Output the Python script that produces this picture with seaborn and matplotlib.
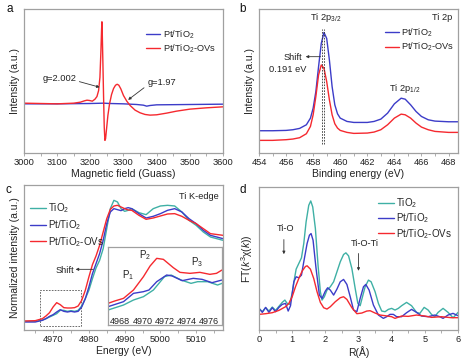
import matplotlib.pyplot as plt
import seaborn as sns
from matplotlib.ticker import MultipleLocator
from matplotlib.patches import Rectangle

sns.set_style("white")
plt.rcParams['font.family'] = ['Liberation Sans', 'DejaVu Sans']
plt.rcParams['mathtext.default'] = 'regular'
plt.rcParams['mathtext.fontset'] = 'custom'
plt.rcParams['mathtext.it'] = 'Liberation Sans:italic'
plt.rcParams['mathtext.rm'] = 'Liberation Sans'

BLUE = '#3c3cc8'
RED = '#f5292f'
TEAL = '#3fb0a5'
GREY = '#a0a0a0'
TXT = '#222222'

# ---- (a) EPR ----
epr_field_red = [3000, 3050, 3100, 3150, 3170, 3182, 3190, 3198, 3206, 3214, 3220, 3225, 3229,
                 3232, 3234, 3235, 3236, 3238, 3240, 3242, 3244, 3246, 3249, 3253, 3258, 3264,
                 3270, 3276, 3281, 3286, 3292, 3300, 3310, 3320, 3335, 3350, 3365, 3380, 3400,
                 3430, 3460, 3500, 3550, 3600]
epr_red = [2, 1, 0, 2, 5, 9, 11, 10, 8, 14, 22, 40, 80,
           160, 225, 247, 215, 120, 20, -70, -110, -105, -75, -35, 0, 28,
           46, 56, 59, 56, 45, 25, 8, -5, -19, -27, -32, -34, -33,
           -28, -22, -16, -12, -9]
epr_field_blue = [3000, 3100, 3200, 3240, 3260, 3300, 3340, 3360, 3370, 3380, 3400, 3500, 3600]
epr_blue = [0, 0, 1, 2, 1, 0, -2, -4, -7, -5, -3, -2, -1]

# ---- (b) XPS Ti 2p ----
xps_be = [454, 455, 456, 456.5, 457, 457.5, 457.8, 458.0, 458.2, 458.4, 458.6, 458.8, 459.0,
          459.2, 459.4, 459.6, 459.8, 460.0, 460.5, 461, 462, 462.5, 463, 463.5, 464, 464.5,
          464.8, 465.2, 465.6, 466, 466.5, 467, 468, 468.7]
xps_pt = [67, 67, 68, 70, 74, 85, 105, 135, 185, 260, 330, 363, 345,
          280, 200, 145, 118, 105, 95, 92, 92, 95, 102, 120, 148, 165,
          162, 145, 125, 110, 100, 96, 94, 94]
xps_ov = [38, 38, 40, 42, 46, 58, 80, 115, 170, 235, 265, 255, 215,
          160, 115, 88, 75, 68, 62, 59, 60, 63, 70, 85, 105, 117,
          115, 105, 90, 78, 70, 65, 62, 62]

# ---- (c) XANES Ti K-edge ----
xanes_e = [4962, 4965, 4967, 4968, 4969, 4970, 4971, 4972, 4973, 4974, 4975, 4976, 4977,
           4978, 4979, 4980, 4981, 4982, 4983, 4984, 4985, 4986, 4987, 4988, 4989, 4990,
           4991, 4992, 4994, 4996, 4998, 5000, 5002, 5004, 5006, 5008, 5010, 5012, 5014, 5017.5]
xanes_tio2 = [26, 26, 30, 34, 39, 44, 49, 59, 59, 56, 58, 56, 59,
              72, 94, 119, 154, 186, 209, 244, 304, 364, 389, 384, 364, 356,
              359, 364, 352, 346, 364, 372, 374, 372, 354, 329, 314, 294, 279, 269]
xanes_pt = [24, 24, 29, 34, 41, 46, 54, 61, 56, 54, 56, 54, 56,
            69, 94, 129, 169, 199, 229, 269, 319, 354, 364, 361, 358, 364,
            367, 364, 349, 336, 341, 349, 359, 364, 354, 334, 319, 299, 284, 274]
xanes_ov = [27, 28, 34, 42, 52, 69, 82, 76, 67, 66, 66, 67, 72,
            89, 119, 159, 196, 222, 254, 294, 334, 362, 372, 374, 369, 364,
            360, 359, 344, 332, 336, 342, 348, 349, 341, 329, 319, 304, 289, 284]

# inset pre-edge
pre_e_ov = [4966.9, 4967.5, 4968.3, 4969.2, 4970.1, 4970.7, 4971.3, 4971.9, 4972.8, 4973.4,
            4974.3, 4975.2, 4976.1, 4976.7, 4977.2]
pre_ov = [40, 47, 55, 80, 120, 152, 175, 172, 147, 133, 130, 133, 127, 130, 140]
pre_e_pt = [4966.9, 4968.3, 4969.2, 4970.1, 4970.6, 4971.3, 4972.2, 4972.7, 4973.6, 4974.6,
            4975.4, 4976.3, 4977.2]
pre_pt = [30, 45, 70, 75, 80, 105, 125, 122, 108, 115, 112, 102, 110]
pre_e_tio2 = [4966.9, 4968.3, 4969.2, 4970.1, 4971.0, 4972.0, 4972.6, 4973.5, 4974.4, 4975.0,
              4975.9, 4976.8, 4977.2]
pre_tio2 = [20, 35, 50, 60, 80, 120, 125, 110, 100, 105, 105, 95, 100]

# ---- (d) EXAFS FT ----
r_tio2 = [0.0, 0.1, 0.2, 0.3, 0.4, 0.5, 0.6, 0.7, 0.78, 0.85, 0.92, 1.0, 1.07, 1.12, 1.2, 1.28,
          1.35, 1.42, 1.5, 1.56, 1.62, 1.7, 1.78, 1.85, 1.9, 1.97, 2.05, 2.15, 2.25, 2.35, 2.45,
          2.55, 2.62, 2.7, 2.8, 2.9, 2.98, 3.05, 3.12, 3.2, 3.3, 3.38, 3.5, 3.6, 3.7, 3.8, 3.9,
          4.0, 4.1, 4.2, 4.3, 4.45, 4.6, 4.75, 4.85, 4.98, 5.1, 5.2, 5.3, 5.4, 5.55, 5.7, 5.85,
          5.95, 6.0]
ft_tio2 = [65, 55, 67, 57, 69, 59, 71, 83, 90, 80, 77, 110, 155, 183, 200, 217,
           260, 325, 375, 388, 370, 305, 195, 115, 90, 100, 120, 130, 145, 175, 205,
           227, 232, 223, 185, 125, 80, 73, 100, 130, 150, 145, 115, 80, 57, 55, 62,
           65, 60, 65, 73, 83, 73, 53, 50, 68, 60, 47, 40, 53, 65, 53, 37,
           47, 53]
r_pt = [0.0, 0.1, 0.2, 0.3, 0.4, 0.5, 0.6, 0.7, 0.8, 0.88, 0.95, 1.05, 1.12, 1.2, 1.28, 1.35,
        1.45, 1.52, 1.57, 1.63, 1.72, 1.82, 1.9, 2.0, 2.07, 2.15, 2.25, 2.35, 2.45, 2.55, 2.65,
        2.75, 2.85, 2.95, 3.05, 3.15, 3.22, 3.32, 3.45, 3.6, 3.75, 3.85, 3.95, 4.05, 4.15, 4.3,
        4.45, 4.6, 4.75, 4.9, 5.1, 5.3, 5.45, 5.55, 5.7, 5.85, 6.0]
ft_pt = [65, 53, 68, 53, 67, 55, 68, 77, 80, 57, 73, 145, 160, 157, 165, 205,
         260, 285, 290, 270, 185, 105, 95, 117, 127, 120, 105, 123, 145, 152, 137,
         100, 60, 55, 95, 130, 137, 120, 75, 45, 35, 40, 47, 47, 40, 40,
         52, 62, 53, 42, 40, 45, 40, 35, 45, 50, 43]
r_ov = [0.0, 0.2, 0.4, 0.6, 0.8, 0.9, 1.0, 1.1, 1.2, 1.3, 1.4, 1.45, 1.55, 1.65, 1.75, 1.85,
        1.95, 2.05, 2.15, 2.3, 2.45, 2.55, 2.65, 2.8, 2.95, 3.1, 3.25, 3.35, 3.5, 3.65, 3.8,
        4.0, 4.1, 4.3, 4.5, 4.75, 5.0, 5.2, 5.5, 5.8, 6.0]
ft_ov = [47, 49, 52, 59, 70, 80, 100, 130, 155, 177, 191, 193, 183, 155, 115, 83,
         67, 63, 70, 85, 97, 100, 92, 67, 49, 51, 57, 58, 51, 45, 43,
         40, 35, 42, 41, 45, 42, 38, 40, 37, 37]

fig = plt.figure(figsize=(4.63, 3.64), dpi=100)
ax_a = fig.add_axes([0.0518, 0.5797, 0.4298, 0.3969])
ax_b = fig.add_axes([0.5594, 0.5797, 0.4298, 0.3969])
ax_c = fig.add_axes([0.0529, 0.0934, 0.4287, 0.3984])
ax_d = fig.add_axes([0.5594, 0.0934, 0.4298, 0.3929])


def style(ax, major, minor):
    for s in ax.spines.values():
        s.set_color(GREY)
        s.set_linewidth(0.9)
    ax.xaxis.set_major_locator(MultipleLocator(major))
    ax.xaxis.set_minor_locator(MultipleLocator(minor))
    ax.tick_params(axis='x', which='both', direction='out', length=2, width=0.6,
                   color=GREY, labelsize=6.7, labelcolor=TXT, pad=1.5, bottom=True)
    ax.tick_params(axis='y', left=False, labelleft=False)
    ax.grid(False)


def lines(ax, x, y, color, label=None, lw=1.0):
    sns.lineplot(x=x, y=y, ax=ax, color=color, lw=lw, sort=False, label=label, legend=False)


def legend(ax, x, y, fs=6.7, hl=1.5, sp=0.2):
    ax.legend(loc='upper left', bbox_to_anchor=(x, y), frameon=False, fontsize=fs,
              handlelength=hl, handletextpad=0.25, borderpad=0, borderaxespad=0,
              labelspacing=sp)


arrow = dict(arrowstyle='-|>', lw=0.6, color='#333333', mutation_scale=4,
             shrinkA=0, shrinkB=0)

# (a)
lines(ax_a, epr_field_blue, epr_blue, BLUE, 'Pt/TiO$_2$')
lines(ax_a, epr_field_red, epr_red, RED, 'Pt/TiO$_2$-OVs')
ax_a.set_xlim(3000, 3600)
ax_a.set_ylim(-148, 287)
style(ax_a, 100, 50)
ax_a.set_xlabel('Magnetic field (Guass)', fontsize=7.5, color=TXT, labelpad=1.5)
ax_a.set_ylabel('Intensity (a.u.)', fontsize=7.5, color=TXT, labelpad=3)
legend(ax_a, 0.615, 0.865)
ax_a.annotate('g=2.002', xy=(3228, 50), xytext=(3106, 75), fontsize=6.7, color=TXT,
              ha='center', va='center', arrowprops=dict(arrow, relpos=(1, 0.3)))
ax_a.annotate('g=1.97', xy=(3314, 12), xytext=(3415, 64), fontsize=6.7, color=TXT,
              ha='center', va='center', arrowprops=dict(arrow, relpos=(0, 0.2)))

# (b)
lines(ax_b, xps_be, xps_pt, BLUE, 'Pt/TiO$_2$')
lines(ax_b, xps_be, xps_ov, RED, 'Pt/TiO$_2$-OVs')
for pos in [458.62, 458.81]:
    ax_b.plot([pos, pos], [28, 372], ls=(0, (2, 1.5)), lw=0.6, color='#333333')
ax_b.set_xlim(454, 468.7)
ax_b.set_ylim(0, 435)
style(ax_b, 2, 1)
ax_b.set_xlabel('Binding energy (eV)', fontsize=7.5, color=TXT, labelpad=1.5)
ax_b.set_ylabel('Intensity (a.u.)', fontsize=7.5, color=TXT, labelpad=3)
legend(ax_b, 0.632, 0.875)
ax_b.text(458.94, 408, 'Ti 2p$_{3/2}$', fontsize=6.7, color=TXT, ha='center', va='center')
ax_b.text(468.3, 408, 'Ti 2p', fontsize=6.7, color=TXT, ha='right', va='center')
ax_b.text(464.74, 195, 'Ti 2p$_{1/2}$', fontsize=6.7, color=TXT, ha='center', va='center')
ax_b.text(456.5, 288, 'Shift', fontsize=6.7, color=TXT, ha='center', va='center')
ax_b.text(456.1, 250, '0.191 eV', fontsize=6.7, color=TXT, ha='center', va='center')
ax_b.annotate('', xy=(457.45, 290), xytext=(458.55, 290), arrowprops=arrow)

# (c)
lines(ax_c, xanes_e, xanes_tio2, TEAL, 'TiO$_2$')
lines(ax_c, xanes_e, xanes_pt, BLUE, 'Pt/TiO$_2$')
lines(ax_c, xanes_e, xanes_ov, RED, 'Pt/TiO$_2$-OVs')
ax_c.set_xlim(4962, 5017.5)
ax_c.set_ylim(0, 435)
style(ax_c, 10, 5)
ax_c.set_xlabel('Energy (eV)', fontsize=7.5, color=TXT, labelpad=1.5)
ax_c.set_ylabel('Normalized intensity (a.u.)', fontsize=7.5, color=TXT, labelpad=3)
legend(ax_c, 0.03, 0.885, fs=7, hl=1.6, sp=0.28)
ax_c.text(5016.4, 399, 'Ti K-edge', fontsize=6.7, color=TXT, ha='right', va='center')
ax_c.text(4973.3, 179, 'Shift', fontsize=6.7, color=TXT, ha='center', va='center')
ax_c.annotate('', xy=(4976.3, 182), xytext=(4981.2, 182), arrowprops=arrow)
ax_c.add_patch(Rectangle((4966.4, 12), 11.5, 107, fill=False, ls=(0, (2, 1.5)),
                         lw=0.6, ec='#555555'))

ins = fig.add_axes([0.2333, 0.1071, 0.2462, 0.2143])
ins.set_facecolor('white')
lines(ins, pre_e_tio2, pre_tio2, TEAL)
lines(ins, pre_e_pt, pre_pt, BLUE)
lines(ins, pre_e_ov, pre_ov, RED)
ins.set_xlim(4966.9, 4977.2)
ins.set_ylim(-25, 209)
for s in ins.spines.values():
    s.set_color(GREY)
    s.set_linewidth(0.9)
ins.xaxis.set_major_locator(MultipleLocator(2))
ins.tick_params(axis='x', direction='in', length=0, labelsize=6.5, labelcolor=TXT, pad=-6)
ins.tick_params(axis='y', left=False, labelleft=False)
ins.set_xlabel('')
ins.set_ylabel('')
ins.text(4968.75, 125, 'P$_1$', fontsize=7, color=TXT, ha='center', va='center')
ins.text(4970.25, 185, 'P$_2$', fontsize=7, color=TXT, ha='center', va='center')
ins.text(4974.9, 165, 'P$_3$', fontsize=7, color=TXT, ha='center', va='center')

# (d)
lines(ax_d, r_tio2, ft_tio2, TEAL, 'TiO$_2$')
lines(ax_d, r_pt, ft_pt, BLUE, 'Pt/TiO$_2$')
lines(ax_d, r_ov, ft_ov, RED, 'Pt/TiO$_2$-OVs')
ax_d.set_xlim(0, 6)
ax_d.set_ylim(0, 430)
style(ax_d, 1, 0.5)
ax_d.set_xlabel('R(Å)', fontsize=7.5, color=TXT, labelpad=1.5)
ax_d.set_ylabel('FT($\\mathit{k}^3$χ($\\mathit{k}$))', fontsize=7.5, color=TXT, labelpad=3)
legend(ax_d, 0.6, 0.935, fs=7, hl=1.6, sp=0.15)
ax_d.text(0.8, 305, 'Ti-O', fontsize=6.7, color=TXT, ha='center', va='center')
ax_d.annotate('', xy=(0.75, 228), xytext=(0.75, 272), arrowprops=arrow)
ax_d.text(3.2, 260, 'Ti-O-Ti', fontsize=6.7, color=TXT, ha='center', va='center')
ax_d.annotate('', xy=(3.0, 178), xytext=(3.0, 230), arrowprops=arrow)

for lab, x, y in [('a', 0.015, 0.975), ('b', 0.516, 0.975),
                  ('c', 0.012, 0.478), ('d', 0.518, 0.478)]:
    fig.text(x, y, lab, fontsize=8.5, color='#111111', ha='left', va='center')

fig.savefig('out.png', dpi=100)
